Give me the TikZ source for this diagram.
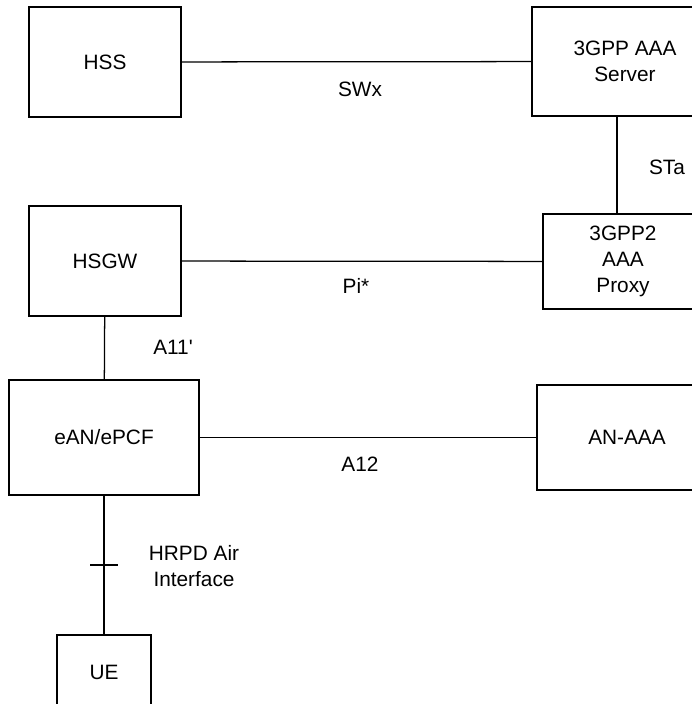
\documentclass[tikz,border=0pt]{standalone}
\usepackage{fontspec}
\setmainfont{Liberation Sans}
\usepackage{tikz}
\usetikzlibrary{positioning}

\begin{document}
\begin{tikzpicture}[line width=0.9pt,
    every node/.style={font=\fontsize{14.8pt}{18.4pt}\selectfont},
    netbox/.style={draw, rectangle, align=center, inner sep=0pt}]
        % 画布
        \useasboundingbox (0,0) rectangle (17.3,17.6);
        \clip (0,0) rectangle (17.3,17.6);

        % 节点
        \node[netbox, minimum width=3.8cm, minimum height=2.75cm] (hss) at (2.625,16.05) {HSS};
        \node[netbox, minimum width=4.65cm, minimum height=2.725cm] (aaa) at (15.625,16.0625) {3GPP AAA\\Server};
        \node[netbox, minimum width=3.8cm, minimum height=2.75cm] (hsgw) at (2.625,11.075) {HSGW};
        \node[netbox, minimum width=4.0cm, minimum height=2.375cm] (proxy) at (15.575,11.0625) {3GPP2\\AAA\\Proxy};
        \node[netbox, minimum width=4.75cm, minimum height=2.875cm] (ean) at (2.6,6.6625) {eAN/ePCF};
        \node[netbox, minimum width=4.5cm, minimum height=2.625cm] (anaaa) at (15.675,6.6625) {AN-AAA};
        \node[netbox, minimum width=2.35cm, minimum height=1.85cm] (ue) at (2.6,0.8) {UE};

        % 连线
        \draw (hss) -- (aaa);
        \draw ([xshift=-0.2cm]aaa.south) -- ([xshift=-0.2cm]aaa.south |- proxy.north);
        \draw (hsgw) -- (proxy);
        \draw (hsgw) -- (ean);
        \draw (ean) -- (anaaa);
        \draw (ean) -- coordinate[midway] (air) (ue);
        \draw ([xshift=-0.34cm]air) -- ([xshift=0.34cm]air);

        % 接口标签
        \node (swx) at (9.0,15.375) {SWx};
        \node (sta) at (16.675,13.425) {STa};
        \node (pi) at (8.9,10.45) {Pi*};
        \node (a11) at (4.325,8.925) {A11\textquotesingle};
        \node (a12) at (9.0,6.0) {A12};
        \node[align=center] (hrpd) at (4.85,3.45) {HRPD Air\\Interface};
    \end{tikzpicture}
\end{document}
